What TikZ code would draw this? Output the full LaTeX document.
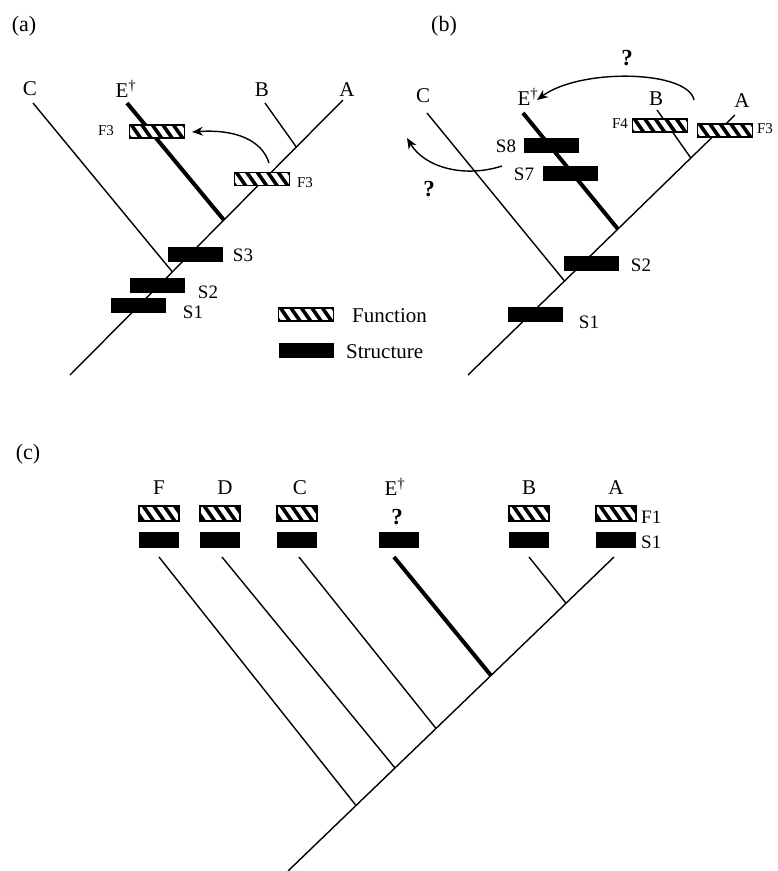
\documentclass[tikz,border=0pt]{standalone}
\usepackage{fontspec}
\setmainfont{Liberation Serif}
\usetikzlibrary{arrows.meta,calc}

\tikzset{
  branch/.style={line width=1.4pt},
  thickbranch/.style={line width=4pt},
  hatchbox/.style={draw, line width=1.3pt, fill=white, inner sep=0pt,
    minimum width=55pt, minimum height=13pt,
    path picture={
      \foreach \k in {-7,...,7}{
        \draw[line width=3.6pt]
          ($(path picture bounding box.center)+(\k*10.5pt-7pt,10pt)$) -- ++(14pt,-20pt);
      }}},
  structbox/.style={fill=black, inner sep=0pt, minimum width=55pt, minimum height=15pt},
  shatch/.style={hatchbox, minimum width=40pt, minimum height=15pt},
  sstruct/.style={structbox, minimum width=40pt, minimum height=16pt},
  taxon/.style={font=\fontsize{21}{21}\selectfont, inner sep=0pt},
  panel/.style={font=\fontsize{22}{22}\selectfont, inner sep=0pt},
  slab/.style={font=\fontsize{19}{19}\selectfont, inner sep=0pt},
  flab/.style={font=\fontsize{15}{15}\selectfont, inner sep=0pt},
  qmark/.style={font=\fontsize{23}{23}\selectfont\bfseries, inner sep=0pt},
  legend/.style={font=\fontsize{21}{21}\selectfont, inner sep=0pt, anchor=west},
  move/.style={line width=1.4pt, -{Stealth[length=11pt,width=9pt]}},
}

\begin{document}
\begin{tikzpicture}[x=1pt, y=-1pt]
\useasboundingbox (0,0) rectangle (778,871);
\fill[white] (0,0) rectangle (778,871);

% ---------------- panel (a) ----------------
\node[panel] (pa) at (24,26) {(a)};
\coordinate (aroot) at (70,375);
\coordinate (aA) at (343,100);
\coordinate (aC) at (33,103);
\coordinate (aE) at (127,103);
\coordinate (aB) at (265,103);
\coordinate (aCj) at ($(aroot)!0.375!(aA)$);
\coordinate (aEj) at ($(aroot)!0.5636!(aA)$);
\coordinate (aBj) at ($(aroot)!0.829!(aA)$);

\draw[branch] (aroot) -- (aA);
\draw[branch] (aC) -- (aCj);
\draw[branch] (aB) -- (aBj);
\draw[thickbranch] (aE) -- (aEj);

\node[taxon] (laC) at (30,89) {C};
\node[taxon] (laE) at (126,89) {E\textsuperscript{†}};
\node[taxon] (laB) at (262,90) {B};
\node[taxon] (laA) at (347,90) {A};

\node[hatchbox] (aF3e) at (157,131.5) {};
\node[hatchbox] (aF3m) at (262,179) {};
\node[structbox] (aS3) at (195.5,254.5) {};
\node[structbox] (aS2) at (157.5,285) {};
\node[structbox] (aS1) at (138.5,305.5) {};

\node[flab] (laF3e) at (106,131) {F3};
\node[flab] (laF3m) at (305,183) {F3};
\node[slab] (laS3) at (243,255) {S3};
\node[slab] (laS2) at (208,292) {S2};
\node[slab] (laS1) at (193,312) {S1};

\coordinate (aArrS) at (269,163);
\coordinate (aArrT) at (192,132);
\draw[move] (aArrS) .. controls (262,140) and (235,129) .. (aArrT);

% legend
\node[hatchbox] (legF) at (306,314.5) {};
\node[structbox] (legS) at (306,350.5) {};
\node[legend] (legFt) at (352,316) {Function};
\node[legend] (legSt) at (346,352) {Structure};

% ---------------- panel (b) ----------------
\node[panel] (pb) at (444,26) {(b)};
\coordinate (broot) at (468,375);
\coordinate (bA) at (735,115);
\coordinate (bC) at (427,113);
\coordinate (bE) at (523,113);
\coordinate (bB) at (657,110);
\coordinate (bCj) at ($(broot)!0.3615!(bA)$);
\coordinate (bEj) at ($(broot)!0.5615!(bA)$);
\coordinate (bBj) at ($(broot)!0.8346!(bA)$);

\draw[branch] (broot) -- (bA);
\draw[branch] (bC) -- (bCj);
\draw[branch] (bB) -- (bBj);
\draw[thickbranch] (bE) -- (bEj);

\node[taxon] (lbC) at (423,96) {C};
\node[taxon] (lbE) at (528,97) {E\textsuperscript{†}};
\node[taxon] (lbB) at (656,99) {B};
\node[taxon] (lbA) at (742,101) {A};

\node[hatchbox] (bF4) at (660,125.5) {};
\node[hatchbox] (bF3) at (725,130.5) {};
\node[structbox] (bS8) at (551,145.5) {};
\node[structbox] (bS7) at (570,173.5) {};
\node[structbox] (bS2) at (591,263.5) {};
\node[structbox] (bS1) at (535,314.5) {};

\node[flab] (lbF4) at (620,124) {F4};
\node[flab] (lbF3) at (765,129) {F3};
\node[slab] (lbS8) at (506,146) {S8};
\node[slab] (lbS7) at (524,174) {S7};
\node[slab] (lbS2) at (641,265) {S2};
\node[slab] (lbS1) at (589,322) {S1};

\coordinate (bArr1S) at (694,100);
\coordinate (bArr1T) at (537,100);
\draw[move] (bArr1S) .. controls (688,70) and (580,68) .. (bArr1T);
\node[qmark] (bQ1) at (627,58) {?};

\coordinate (bArr2S) at (502,166);
\coordinate (bArr2T) at (407,138);
\draw[move] (bArr2S) .. controls (465,178) and (425,168) .. (bArr2T);
\node[qmark] (bQ2) at (429,189) {?};

% ---------------- panel (c) ----------------
\node[panel] (pc) at (28,454) {(c)};
\coordinate (croot) at (288,871);
\coordinate (cA) at (614,557);
\coordinate (cF) at (159,557);
\coordinate (cD) at (222,557);
\coordinate (cC) at (299,557);
\coordinate (cE) at (394,557);
\coordinate (cB) at (529,557);
\coordinate (cFj) at ($(croot)!0.2086!(cA)$);
\coordinate (cDj) at ($(croot)!0.3282!(cA)$);
\coordinate (cCj) at ($(croot)!0.454!(cA)$);
\coordinate (cEj) at ($(croot)!0.6227!(cA)$);
\coordinate (cBj) at ($(croot)!0.8528!(cA)$);

\draw[branch] (croot) -- (cA);
\draw[branch] (cF) -- (cFj);
\draw[branch] (cD) -- (cDj);
\draw[branch] (cC) -- (cCj);
\draw[branch] (cB) -- (cBj);
\draw[thickbranch] (cE) -- (cEj);

\node[taxon] (lcF) at (159,488) {F};
\node[taxon] (lcD) at (225,488) {D};
\node[taxon] (lcC) at (300,488) {C};
\node[taxon] (lcE) at (395,487) {E\textsuperscript{†}};
\node[taxon] (lcB) at (529,488) {B};
\node[taxon] (lcA) at (616,488) {A};

\node[shatch] (cFf) at (159,513.5) {};
\node[shatch] (cDf) at (220,513.5) {};
\node[shatch] (cCf) at (297,513.5) {};
\node[shatch] (cBf) at (529,513.5) {};
\node[shatch] (cAf) at (616,513.5) {};
\node[qmark] (cQ) at (397,517) {?};

\node[sstruct] (cFs) at (159,540) {};
\node[sstruct] (cDs) at (220,540) {};
\node[sstruct] (cCs) at (297,540) {};
\node[sstruct] (cEs) at (399,540) {};
\node[sstruct] (cBs) at (529,540) {};
\node[sstruct] (cAs) at (616,540) {};

\node[slab, anchor=west] (lcF1) at (641,517) {F1};
\node[slab, anchor=west] (lcS1) at (641,542) {S1};
\end{tikzpicture}
\end{document}
